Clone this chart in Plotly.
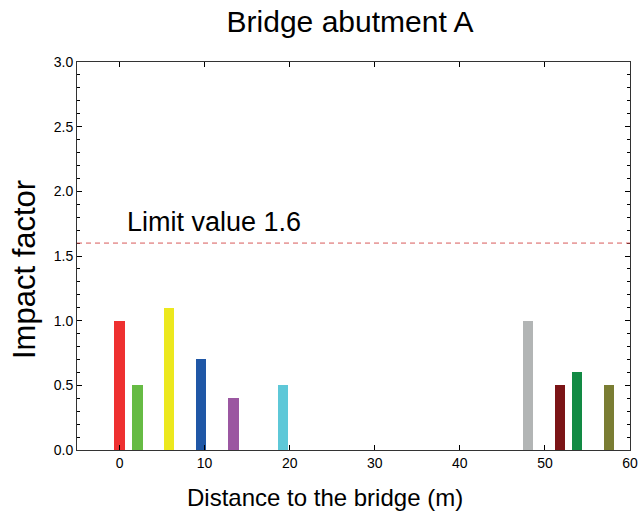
import plotly.graph_objects as go

positions = [0, 2.1, 5.8, 9.6, 13.4, 19.2, 48.0, 51.8, 53.8, 57.5]
impact = [1.0, 0.5, 1.1, 0.7, 0.4, 0.5, 1.0, 0.5, 0.6, 0.5]
colors = ["#ee3030", "#66bb44", "#ece81e", "#1f57a6", "#9b57a1", "#5ec8d8",
          "#b2b5b5", "#7b1416", "#128a44", "#7a7d33"]
limit_value = 1.6
x_ticks = [0, 10, 20, 30, 40, 50, 60]
y_ticks = [0.0, 0.5, 1.0, 1.5, 2.0, 2.5, 3.0]

W, H = 640, 518
L, R, T, B = 77, 10, 62, 68
pw, ph = W - L - R, H - T - B

fig = go.Figure()
fig.add_trace(go.Bar(x=positions, y=impact, width=1.23,
                     marker=dict(color=colors, line=dict(width=0)),
                     showlegend=False))
fig.add_shape(type="line", xref="x", yref="y", x0=-5, x1=60,
              y0=limit_value, y1=limit_value,
              line=dict(color="#d85a5a", width=1, dash="5px,4px"))
fig.add_annotation(x=0.7, y=limit_value, xref="x", yref="y",
                   text="Limit value 1.6", showarrow=False,
                   xanchor="left", yanchor="bottom", yshift=4,
                   font=dict(size=27, color="black"))

# axis titles
fig.add_annotation(x=(325 - L) / pw, y=0, xref="paper", yref="paper",
                   text="Distance to the bridge (m)", showarrow=False,
                   xanchor="center", yanchor="middle", yshift=-47,
                   font=dict(size=24, color="black"))
fig.add_annotation(x=0, y=(H - B - 270) / ph, xref="paper", yref="paper",
                   text="Impact factor", showarrow=False, textangle=-90,
                   xanchor="center", yanchor="middle", xshift=-53,
                   font=dict(size=31, color="black"))

font = "Liberation Sans, Arial, sans-serif"
fig.update_layout(
    width=W, height=H,
    margin=dict(l=L, r=R, t=T, b=B),
    paper_bgcolor="white", plot_bgcolor="white",
    font=dict(family=font, color="black"),
    title=dict(text="Bridge abutment A", x=350 / W, xanchor="center",
               y=1 - 21 / H, yanchor="middle", font=dict(size=30, color="black")),
    bargap=0,
)
fig.update_xaxes(range=[-5, 60], tickvals=x_ticks,
                 ticks="inside", ticklen=5, tickcolor="black",
                 showline=True, linecolor="#333", linewidth=1, mirror="ticks",
                 showgrid=False, zeroline=False, automargin=False,
                 tickfont=dict(size=14))
fig.update_yaxes(range=[0, 3.0], tickvals=y_ticks, ticktext=[f"{v:.1f}" for v in y_ticks],
                 ticks="inside", ticklen=5, tickcolor="black",
                 minor=dict(dtick=0.1, ticks="inside", ticklen=3, tickcolor="black", showgrid=False),
                 showline=True, linecolor="#333", linewidth=1, mirror="ticks",
                 showgrid=False, zeroline=False, automargin=False,
                 tickfont=dict(size=14))

fig.write_html("out.html", config={"displayModeBar": False},
               post_script="document.body.style.margin='0px';document.body.style.overflow='hidden';")
